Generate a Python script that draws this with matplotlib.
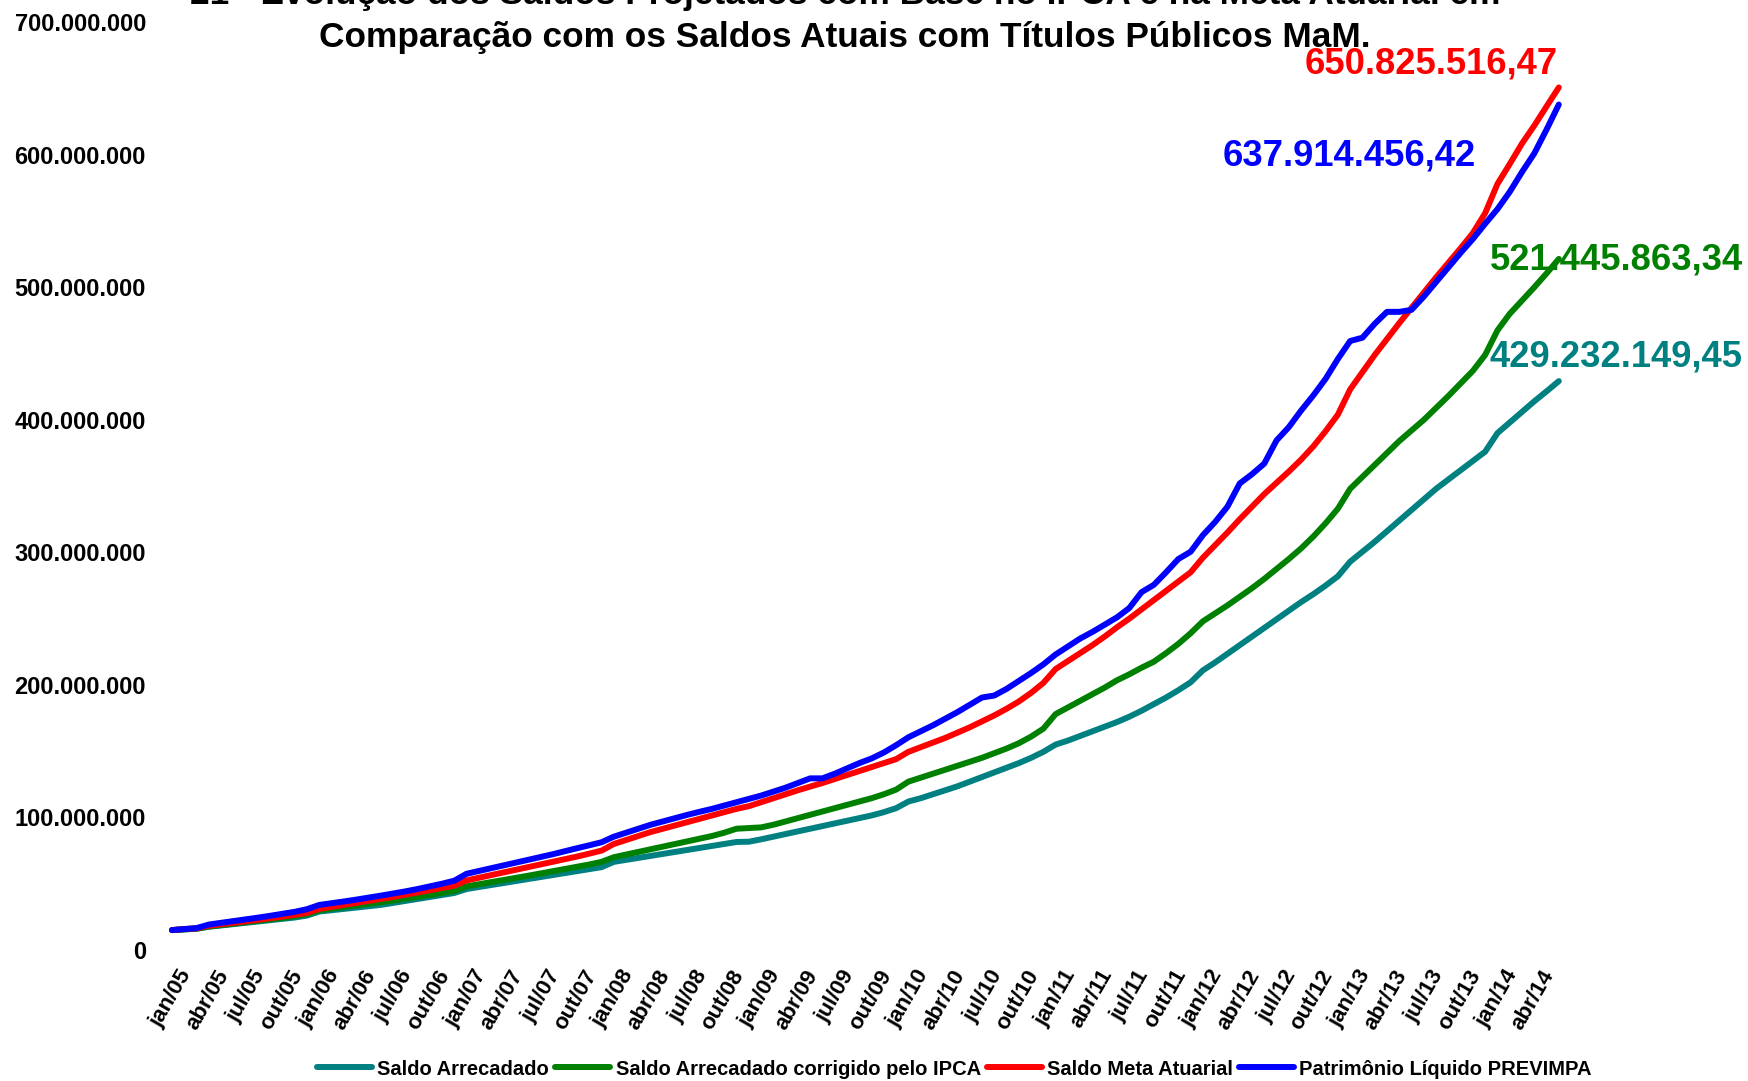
import matplotlib
matplotlib.use("Agg")
import matplotlib.pyplot as plt
import matplotlib.transforms as mtransforms

plt.rcParams["font.family"] = ["Liberation Sans", "DejaVu Sans"]
plt.rcParams["font.weight"] = "bold"

# categorias: meses de jan/05 a jun/14
abrev = ["jan", "fev", "mar", "abr", "mai", "jun", "jul", "ago", "set", "out", "nov", "dez"]
meses = [f"{m}/{a:02d}" for a in range(5, 15) for m in abrev][:114]

# valores em R$ milhões
saldo_arrecadado = [
    15.0, 15.5, 16.0, 17.5, 18.5, 19.5, 20.5, 21.5, 22.5, 23.5, 24.5, 26.0,
    29.0, 30.0, 31.0, 32.0, 33.0, 34.0, 35.5, 37.0, 38.5, 40.0, 41.5, 43.0,
    46.0, 47.5, 49.0, 50.5, 52.0, 53.5, 55.0, 56.5, 58.0, 59.5, 61.0, 62.5,
    66.5, 68.0, 69.5, 71.0, 72.5, 74.0, 75.5, 77.0, 78.5, 80.0, 81.5, 81.7,
    83.5, 85.5, 87.5, 89.5, 91.5, 93.5, 95.5, 97.5, 99.5, 101.5, 104.0, 107.0,
    112.0, 114.5, 117.5, 120.5, 123.5, 127.0, 130.5, 134.0, 137.5, 141.0, 145.0, 149.5,
    155.0, 158.0, 161.5, 165.0, 168.5, 172.0, 176.0, 180.5, 185.5, 190.5, 196.0, 202.0,
    211.0, 217.0, 223.5, 230.0, 236.5, 243.0, 249.5, 256.0, 262.5, 268.5, 275.0, 282.0,
    293.0, 300.5, 308.0, 316.0, 324.0, 332.0, 340.0, 348.0, 355.0, 362.0, 369.0, 376.0,
    390.0, 398.0, 406.0, 414.0, 421.5, 429.23214945,
]
saldo_ipca = [
    15.0, 15.6, 16.1, 17.8, 18.8, 19.8, 20.9, 22.0, 23.1, 24.2, 25.5, 27.0,
    30.0, 31.2, 32.4, 33.6, 34.8, 36.0, 37.3, 38.7, 40.1, 41.5, 43.0, 44.5,
    48.0, 49.6, 51.2, 52.8, 54.4, 56.0, 57.7, 59.4, 61.1, 62.8, 64.5, 66.5,
    70.0, 72.0, 74.0, 76.0, 78.0, 80.0, 82.0, 84.0, 86.0, 88.5, 91.5, 92.0,
    92.5, 94.5, 97.0, 99.5, 102.0, 104.5, 107.0, 109.5, 112.0, 114.5, 117.5, 121.0,
    127.0, 130.0, 133.0, 136.0, 139.0, 142.0, 145.0, 148.5, 152.0, 156.0, 161.0, 167.0,
    178.0, 183.0, 188.0, 193.0, 198.0, 203.5, 208.0, 213.0, 217.5, 224.0, 231.0, 239.0,
    248.0, 254.0, 260.0, 266.5, 273.0, 280.0, 287.5, 295.0, 303.0, 312.0, 322.0, 333.0,
    348.0, 357.0, 366.0, 375.0, 384.0, 392.0, 400.0, 409.0, 418.0, 427.5, 437.0, 449.0,
    467.5, 480.0, 490.0, 500.0, 510.5, 521.44586334,
]
saldo_meta = [
    15.0, 15.8, 16.4, 18.3, 19.4, 20.5, 21.6, 22.8, 24.0, 25.2, 26.5, 28.0,
    31.0, 32.5, 34.0, 35.5, 37.0, 38.5, 40.0, 41.7, 43.4, 45.1, 46.8, 48.5,
    52.5, 54.5, 56.5, 58.5, 60.5, 62.5, 64.5, 66.5, 68.5, 70.5, 72.7, 75.0,
    80.0, 83.0, 86.0, 89.0, 91.5, 94.0, 96.5, 99.0, 101.5, 104.0, 106.5, 108.5,
    111.5, 114.5, 117.5, 120.5, 123.3, 126.0, 129.0, 132.0, 135.0, 138.0, 141.0, 144.0,
    149.5, 153.0, 156.5, 160.0, 164.0, 168.0, 172.5, 177.0, 182.0, 187.5, 194.0, 201.5,
    212.0, 218.0, 224.0, 230.0, 236.5, 243.5, 250.0, 257.0, 264.0, 271.0, 278.0, 285.0,
    296.0, 305.5, 315.0, 325.0, 334.5, 344.0, 352.5, 361.0, 370.0, 380.0, 391.5, 404.0,
    423.0, 436.0, 449.0, 461.0, 473.0, 484.5, 496.0, 507.5, 518.5, 529.5, 541.0, 556.0,
    578.0, 593.0, 608.5, 622.0, 636.5, 650.82551647,
]
patrimonio = [
    15.0, 15.8, 16.5, 19.2, 20.5, 21.8, 23.1, 24.4, 25.8, 27.3, 28.8, 30.8,
    34.0, 35.3, 36.6, 38.0, 39.5, 41.0, 42.6, 44.2, 46.0, 48.0, 50.0, 52.3,
    57.5, 59.6, 61.7, 63.8, 65.9, 68.0, 70.1, 72.2, 74.5, 76.8, 79.0, 81.3,
    85.5, 88.5, 91.5, 94.5, 97.0, 99.5, 102.0, 104.3, 106.5, 109.0, 111.5, 114.0,
    116.5, 119.5, 122.5, 126.0, 129.5, 129.5, 133.0, 137.0, 141.0, 144.5, 149.0, 154.5,
    160.5, 165.0, 169.5, 174.5, 179.5, 185.0, 190.5, 192.0, 197.0, 203.0, 209.0, 215.5,
    223.0, 229.0, 235.0, 240.0, 245.5, 251.0, 258.0, 270.0, 275.5, 285.0, 295.0, 300.5,
    313.0, 323.0, 334.5, 352.0, 359.0, 367.0, 384.5, 394.5, 407.0, 418.5, 431.0, 446.0,
    459.5, 462.0, 472.5, 481.5, 481.5, 483.0, 493.0, 504.0, 515.0, 526.0, 536.5, 548.0,
    559.0, 572.0, 587.0, 601.0, 619.0, 637.91445642,
]

series = [
    ("Saldo Arrecadado", saldo_arrecadado, "#008080"),
    ("Saldo Arrecadado corrigido pelo IPCA", saldo_ipca, "#008000"),
    ("Saldo Meta Atuarial", saldo_meta, "#FF0000"),
    ("Patrimônio Líquido PREVIMPA", patrimonio, "#0000FF"),
]

# rótulos finais (texto, deslocamento em pixels, alinhamento)
rotulos = {
    "Saldo Arrecadado": ("429.232.149,45", (-69, 24), "left"),
    "Saldo Arrecadado corrigido pelo IPCA": ("521.445.863,34", (-69, -1), "left"),
    "Saldo Meta Atuarial": ("650.825.516,47", (-1, 23), "right"),
    "Patrimônio Líquido PREVIMPA": ("637.914.456,42", (-83, -51), "right"),
}

fig = plt.figure(figsize=(17.49, 10.81), dpi=100)
ax = fig.add_axes([0.09486, 0.1212, 0.7999, 0.8582])

x = list(range(len(meses)))
for nome, valores, cor in series:
    y = [v * 1e6 for v in valores]
    ax.plot(x, y, color=cor, lw=4.3, solid_capstyle="round",
            solid_joinstyle="round", label=nome)
    texto, desloc, ha = rotulos[nome]
    ax.annotate(texto, xy=(x[-1], y[-1]), xytext=desloc, textcoords="offset pixels",
                ha=ha, va="center", color=cor, fontsize=26.2, fontweight="bold")

ax.set_xlim(-0.5, len(meses) - 0.5)
ax.set_ylim(0, 700e6)

yt = list(range(0, 700000001, 100000000))
ax.set_yticks(yt)
ax.set_yticklabels([f"{v:,}".replace(",", ".") for v in yt], fontsize=17, fontweight="bold")

ax.tick_params(length=0)
ax.tick_params(axis="y", pad=14.4)
ax.tick_params(axis="x", pad=11.5)

xt = list(range(0, len(meses), 3))
ax.set_xticks(xt)
ax.set_xticklabels([meses[i] for i in xt], rotation=60, ha="right", va="top",
                   rotation_mode="anchor", fontsize=16, fontweight="bold")
desl = mtransforms.ScaledTranslation(6 / 100, 0, fig.dpi_scale_trans)
for lbl in ax.get_xticklabels():
    lbl.set_transform(lbl.get_transform() + desl)

for s in ax.spines.values():
    s.set_visible(False)

fig.text(0.4831, 1 - 4 / 1081,
         "21 - Evolução dos Saldos Projetados com Base no IPCA e na Meta Atuarial em",
         ha="center", va="baseline", fontsize=25.4, fontweight="bold")
fig.text(0.4831, 1 - 47 / 1081,
         "Comparação com os Saldos Atuais com Títulos Públicos MaM.",
         ha="center", va="baseline", fontsize=25.4, fontweight="bold")

fig.legend(loc="center", bbox_to_anchor=(0.5457, 0.0111), ncol=4, frameon=False,
           prop={"size": 14.5, "weight": "bold"}, handlelength=2.75,
           handletextpad=0.25, columnspacing=0.3, borderpad=0, borderaxespad=0)

fig.savefig("out.png", dpi=100, facecolor="white")
